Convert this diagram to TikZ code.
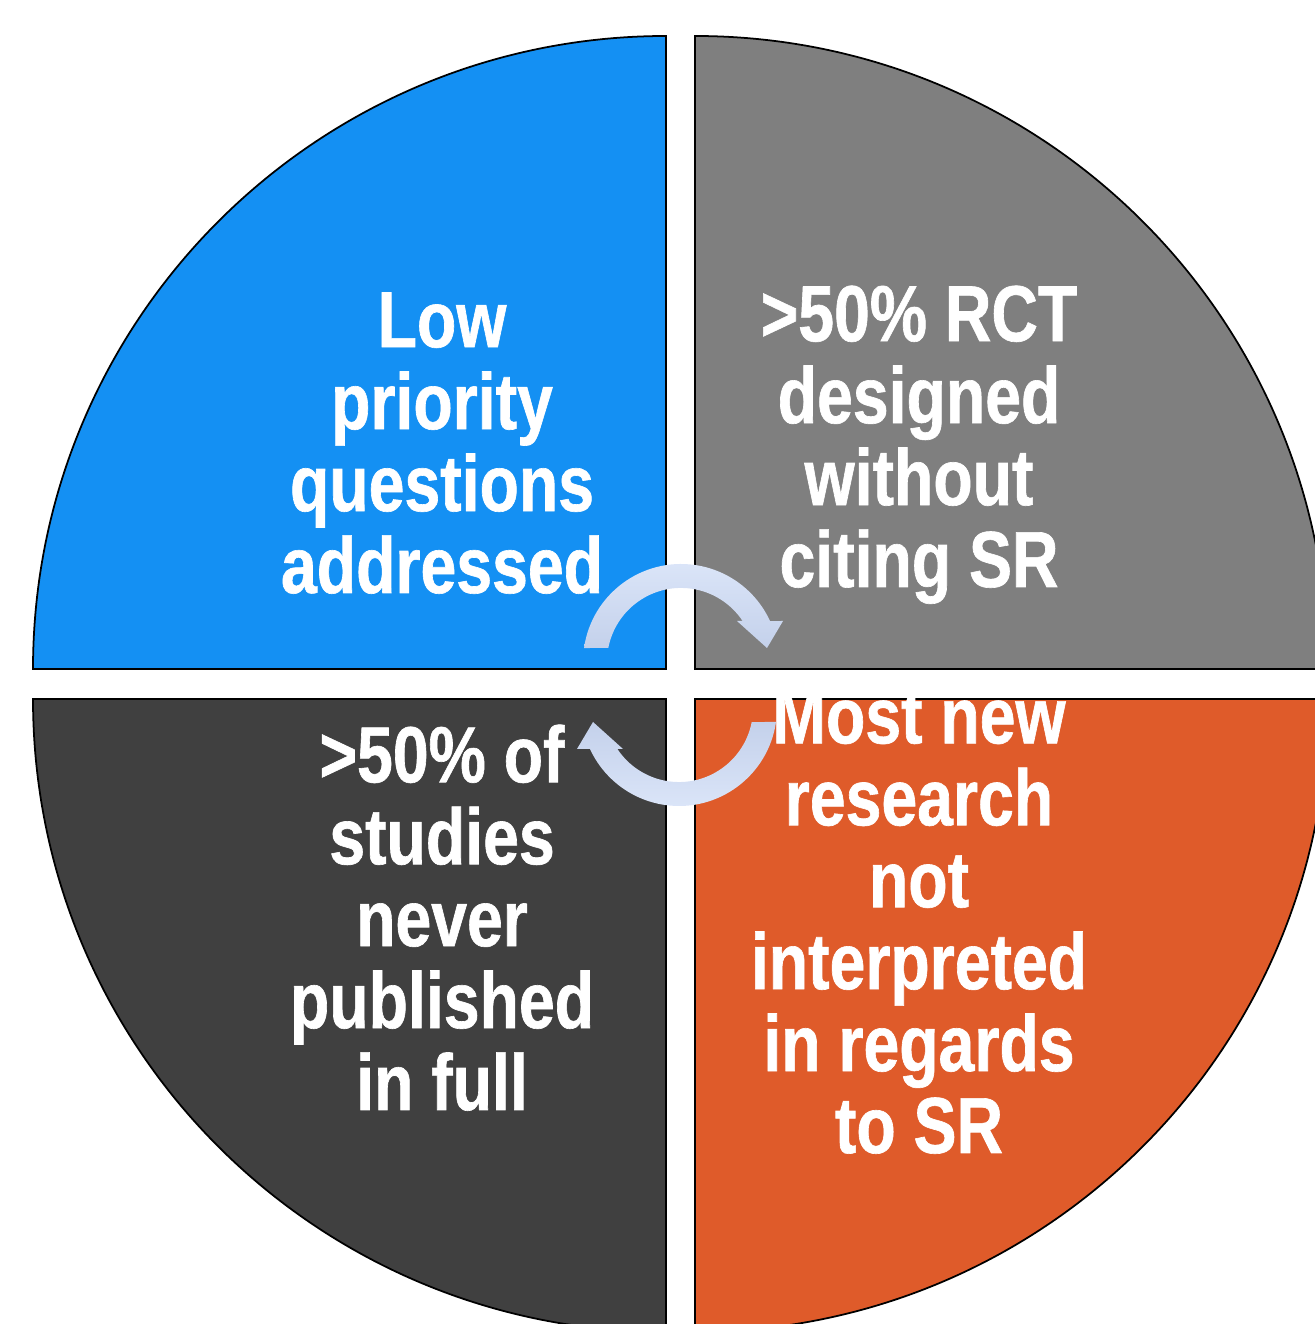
\documentclass[tikz,border=0pt]{standalone}
\usepackage{fontspec}
\newfontfamily\quadfont[FakeStretch=0.81, FakeBold=0.8]{Liberation Sans}
\definecolor{qblue}{HTML}{1490F3}
\definecolor{qgrey}{HTML}{7F7F7F}
\definecolor{qdark}{HTML}{404040}
\definecolor{qorange}{HTML}{DF5B2A}
\definecolor{turnhi}{HTML}{DCE6F9}
\definecolor{turnlo}{HTML}{C4D1EB}

\begin{document}
\begin{tikzpicture}[x=0.01cm, y=0.01cm,
  quarter/.style={draw=black, line width=0.5pt},
  label/.style={anchor=base, align=center, inner sep=0pt, text=white,
    font=\quadfont\bfseries\fontsize{22.6}{23.3}\selectfont},
  turn/.style={top color=turnhi, bottom color=turnlo, draw=none}]
  \useasboundingbox (0,0) rectangle (1315,1324);
  \clip (0,0) rectangle (1315,1324);
  % Quarters of the circle
  \fill[quarter, fill=qblue] (666,655) -- ++(-633,0)
    arc[start angle=180, end angle=90, radius=633] -- cycle;
  \fill[quarter, fill=qgrey] (695,655) -- ++(0,633)
    arc[start angle=90, end angle=0, radius=633] -- cycle;
  \fill[quarter, fill=qdark] (666,625) -- ++(-633,0)
    arc[start angle=180, end angle=270, radius=633] -- cycle;
  \fill[quarter, fill=qorange] (695,625) -- ++(0,-633)
    arc[start angle=270, end angle=360, radius=633] -- cycle;
  % Turning arrows in the middle
  \begin{scope}[shift={(681,662)}]
    \path[turn] (171.8:98) arc[start angle=171.8, end angle=24.7, radius=98]
      -- (102,41) -- (86,14) -- (56,41) -- (61.6,41)
      arc[start angle=33.6, end angle=169.1, radius=74] -- cycle;
  \end{scope}
  \begin{scope}[shift={(679,616)}, rotate=180]
    \path[turn, shading angle=180] (171.8:98) arc[start angle=171.8, end angle=24.7, radius=98]
      -- (102,41) -- (86,14) -- (56,41) -- (61.6,41)
      arc[start angle=33.6, end angle=169.1, radius=74] -- cycle;
  \end{scope}
  % Labels (anchored on the baseline of the last line)
  \node[label] (lowprio) at (442,731) {Low\\priority\\questions\\addressed};
  \node[label] (rct) at (919,737) {>50\% RCT\\designed\\without\\citing SR};
  \node[label] (unpub) at (442,214) {>50\% of\\studies\\never\\published\\in full};
  \node[label] (newres) at (919,171) {Most new\\research\\not\\interpreted\\in regards\\to SR};
\end{tikzpicture}
\end{document}
